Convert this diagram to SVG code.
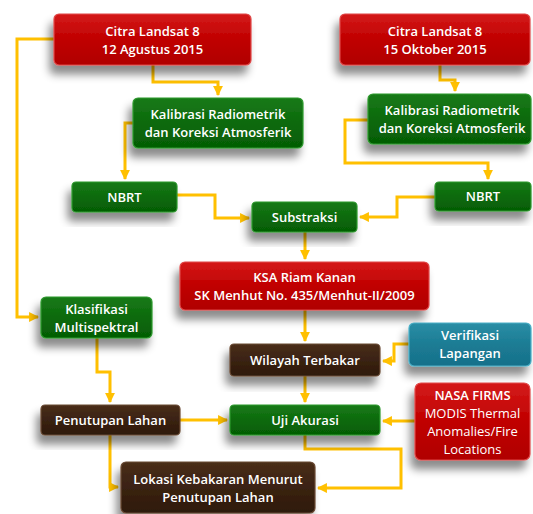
<svg xmlns="http://www.w3.org/2000/svg" width="533" height="514" viewBox="0 0 533 514">
<defs>
<linearGradient id="gRed" x1="0" y1="0" x2="0" y2="1"><stop offset="0" stop-color="#d41a1a"/><stop offset="0.5" stop-color="#c00000"/><stop offset="1" stop-color="#b00000"/></linearGradient>
<linearGradient id="gGreen" x1="0" y1="0" x2="0" y2="1"><stop offset="0" stop-color="#1a7a1a"/><stop offset="0.5" stop-color="#0b6a0b"/><stop offset="1" stop-color="#055d05"/></linearGradient>
<linearGradient id="gBrown" x1="0" y1="0" x2="0" y2="1"><stop offset="0" stop-color="#4a2e1a"/><stop offset="0.5" stop-color="#3a2212"/><stop offset="1" stop-color="#2e1a0c"/></linearGradient>
<linearGradient id="gTeal" x1="0" y1="0" x2="0" y2="1"><stop offset="0" stop-color="#2a8ea6"/><stop offset="0.5" stop-color="#1c7c94"/><stop offset="1" stop-color="#16708a"/></linearGradient>
<filter id="sh" x="-30%" y="-30%" width="160%" height="180%"><feDropShadow dx="-4" dy="9" stdDeviation="4" flood-color="#000" flood-opacity="0.45"/></filter>
<marker id="ah" viewBox="0 0 10 10" refX="9" refY="5" markerWidth="3.3" markerHeight="3.3" orient="auto" markerUnits="strokeWidth"><path d="M0,0 L10,5 L0,10 z" fill="#ffc000"/></marker>
<style>
.box{stroke-width:1.2;filter:url(#sh)}
.red{fill:url(#gRed);stroke:#e04848}
.green{fill:url(#gGreen);stroke:#2f9a2f}
.brown{fill:url(#gBrown);stroke:#6a4a34}
.teal{fill:url(#gTeal);stroke:#4ab0c8}
text{font-family:"Open Sans","Liberation Sans",sans-serif;font-size:13px;font-weight:600;fill:#fff;text-anchor:middle}
.n{font-weight:400}
.c{fill:none;stroke:#ffc000;stroke-width:3;stroke-linejoin:miter}
</style>
</defs>
<g id="connectors">
<path class="c" d="M54,39 H17 V317 H38" marker-end="url(#ah)"/>
<path class="c" d="M153,65 V82 H218 V95" marker-end="url(#ah)"/>
<path class="c" d="M133,123 H125 V179" marker-end="url(#ah)"/>
<path class="c" d="M177,195 H215 V218 H249" marker-end="url(#ah)"/>
<path class="c" d="M440,65 V80 H455 V91" marker-end="url(#ah)"/>
<path class="c" d="M368,120 H345 V163 H488 V179" marker-end="url(#ah)"/>
<path class="c" d="M435,197 H397 V217 H360" marker-end="url(#ah)"/>
<path class="c" d="M305,232 V259" marker-end="url(#ah)"/>
<path class="c" d="M305,310 V341" marker-end="url(#ah)"/>
<path class="c" d="M409,344 H394 V361 H383" marker-end="url(#ah)"/>
<path class="c" d="M305,376 V402" marker-end="url(#ah)"/>
<path class="c" d="M415,421 H383" marker-end="url(#ah)"/>
<path class="c" d="M180,420 H227" marker-end="url(#ah)"/>
<path class="c" d="M97,338 V372 H110 V402" marker-end="url(#ah)"/>
<path class="c" d="M110,435 V487 H118" marker-end="url(#ah)"/>
<path class="c" d="M305,435 V449 H401 V488 H318" marker-end="url(#ah)"/>
</g>
<g id="citra1"><rect class="box red" x="54" y="14" width="197" height="51" rx="5"/><text x="152.5" y="36">Citra Landsat 8</text><text x="152.5" y="54">12 Agustus 2015</text></g>
<g id="citra2"><rect class="box red" x="340" y="14" width="190" height="51" rx="5"/><text x="435" y="36">Citra Landsat 8</text><text x="435" y="54">15 Oktober 2015</text></g>
<g id="kalibrasi1"><rect class="box green" x="133" y="98" width="170" height="50" rx="5"/><text x="218" y="119">Kalibrasi Radiometrik</text><text x="218" y="137">dan Koreksi Atmosferik</text></g>
<g id="kalibrasi2"><rect class="box green" x="368" y="94" width="163" height="50" rx="5"/><text x="452" y="115">Kalibrasi Radiometrik</text><text x="452" y="133">dan Koreksi Atmosferik</text></g>
<g id="nbrt1"><rect class="box green" x="72" y="182" width="105" height="30" rx="4"/><text x="124.5" y="201.5">NBRT</text></g>
<g id="nbrt2"><rect class="box green" x="435" y="182" width="96" height="29" rx="4"/><text x="483" y="201">NBRT</text></g>
<g id="substraksi"><rect class="box green" x="252" y="202" width="105" height="30" rx="4"/><text x="304.5" y="221.5">Substraksi</text></g>
<g id="ksa"><rect class="box red" x="180" y="262" width="249" height="48" rx="5"/><text x="304.5" y="282">KSA Riam Kanan</text><text x="304.5" y="300">SK Menhut No. 435/Menhut-II/2009</text></g>
<g id="klasifikasi"><rect class="box green" x="41" y="297" width="111" height="41" rx="5"/><text x="96.5" y="314">Klasifikasi</text><text x="96.5" y="332">Multispektral</text></g>
<g id="verifikasi"><rect class="box teal" x="409" y="323" width="122" height="43" rx="5"/><text x="470" y="340">Verifikasi</text><text x="470" y="358">Lapangan</text></g>
<g id="wilayah"><rect class="box brown" x="230" y="344" width="150" height="32" rx="4"/><text x="305" y="364.5">Wilayah Terbakar</text></g>
<g id="penutupan"><rect class="box brown" x="41" y="405" width="139" height="30" rx="4"/><text x="110.5" y="424.5">Penutupan Lahan</text></g>
<g id="uji"><rect class="box green" x="230" y="405" width="150" height="30" rx="4"/><text x="305" y="424.5">Uji Akurasi</text></g>
<g id="nasa"><rect class="box red" x="415" y="383" width="115" height="77" rx="6"/><text x="472.5" y="400">NASA FIRMS</text><text class="n" x="472.5" y="418">MODIS Thermal</text><text class="n" x="472.5" y="436">Anomalies/Fire</text><text class="n" x="472.5" y="454">Locations</text></g>
<g id="lokasi"><rect class="box brown" x="121" y="462" width="194" height="51" rx="5"/><text x="218" y="484">Lokasi Kebakaran Menurut</text><text x="218" y="502">Penutupan Lahan</text></g>
</svg>
